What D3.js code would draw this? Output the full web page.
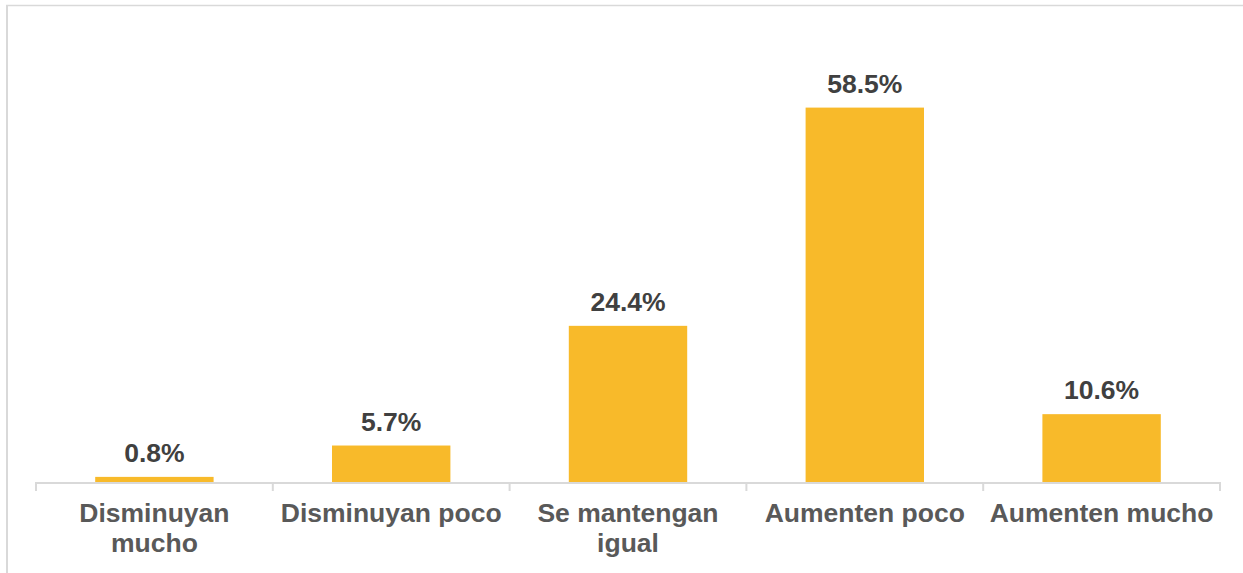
<!DOCTYPE html>
<html>
<head>
<meta charset="utf-8">
<script src="https://cdn.jsdelivr.net/npm/d3@7"></script>
<style>
  html, body { margin: 0; padding: 0; background: #fff; }
  svg { display: block; font-family: "Liberation Sans", Arial, sans-serif; }
</style>
</head>
<body>
<div id="chart"></div>
<script>
'use strict';

const categories = ['Disminuyan mucho', 'Disminuyan poco', 'Se mantengan igual', 'Aumenten poco', 'Aumenten mucho'];
const categoryLines = [['Disminuyan', 'mucho'], ['Disminuyan poco'], ['Se mantengan', 'igual'], ['Aumenten poco'], ['Aumenten mucho']];
const values = [0.8, 5.7, 24.4, 58.5, 10.6];

const WIDTH = 1243;
const HEIGHT = 573;
const BAR_COLOR = '#F8BA2A';
const GRID_COLOR = '#D9D9D9';

const svg = d3.select('#chart').append('svg')
    .attr('width', WIDTH)
    .attr('height', HEIGHT);

// chart area frame (top + left edges visible)
svg.append('line')
    .attr('x1', 6).attr('x2', WIDTH)
    .attr('y1', 5.5).attr('y2', 5.5)
    .attr('stroke', GRID_COLOR).attr('stroke-width', 1.5);
svg.append('line')
    .attr('x1', 7).attr('x2', 7)
    .attr('y1', 5).attr('y2', HEIGHT)
    .attr('stroke', GRID_COLOR).attr('stroke-width', 2);

const x = d3.scaleBand()
    .domain(categories)
    .range([36, 1220])
    .paddingInner(0.5)
    .paddingOuter(0.25);

const y = d3.scaleLinear()
    .domain([0, 70])
    .range([482, 34]);

const step = x.step();

// bars
svg.append('g').selectAll('rect')
    .data(values)
    .join('rect')
    .attr('x', function(d, i) { return x(categories[i]); })
    .attr('y', function(d) { return y(d); })
    .attr('width', x.bandwidth())
    .attr('height', function(d) { return y(0) - y(d); })
    .attr('fill', BAR_COLOR);

// value labels
svg.append('g').selectAll('text')
    .data(values)
    .join('text')
    .attr('x', function(d, i) { return x(categories[i]) + x.bandwidth() / 2; })
    .attr('y', function(d) { return y(d) - 15; })
    .attr('text-anchor', 'middle')
    .attr('font-size', 26.5)
    .attr('font-weight', 'bold')
    .attr('fill', '#404040')
    .text(function(d) { return d.toFixed(1) + '%'; });

// axis line and category boundary ticks
const axis = svg.append('g');
axis.append('line')
    .attr('x1', x.range()[0]).attr('x2', x.range()[1])
    .attr('y1', y(0) + 1).attr('y2', y(0) + 1)
    .attr('stroke', GRID_COLOR).attr('stroke-width', 2);

const tickXs = categories.map(function(c) { return x(c) - step * 0.25; });
tickXs.push(x.range()[1]);
axis.selectAll('line.tick')
    .data(tickXs)
    .join('line')
    .attr('class', 'tick')
    .attr('x1', function(d) { return d; })
    .attr('x2', function(d) { return d; })
    .attr('y1', y(0))
    .attr('y2', y(0) + 9)
    .attr('stroke', GRID_COLOR).attr('stroke-width', 2);

// category labels
const labels = svg.append('g').selectAll('text')
    .data(categoryLines)
    .join('text')
    .attr('text-anchor', 'middle')
    .attr('font-size', 26.5)
    .attr('font-weight', 'bold')
    .attr('fill', '#595959');

labels.each(function(lines, i) {
    const cx = x(categories[i]) + x.bandwidth() / 2;
    d3.select(this).selectAll('tspan')
        .data(lines)
        .join('tspan')
        .attr('x', cx)
        .attr('y', function(d, j) { return 522 + j * 30; })
        .text(function(d) { return d; });
});
</script>
</body>
</html>
